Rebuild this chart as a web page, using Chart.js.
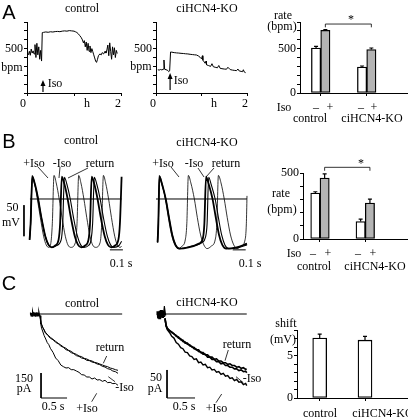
<!DOCTYPE html>
<html>
<head>
<meta charset="utf-8">
<script src="https://cdn.jsdelivr.net/npm/chart.js@4.4.0/dist/chart.umd.min.js"></script>
<style>
  body { margin: 0; background: #fff; }
  #fig { position: relative; width: 408px; height: 420px; overflow: hidden; background: #fff;
         font-family: "Liberation Serif", "Times New Roman", serif; font-size: 12px; color: #000; }
  #fig canvas { position: absolute; }
  #fig svg { position: absolute; left: 0; top: 0; }
  .t { position: absolute; white-space: nowrap; line-height: 1; transform: translate(-50%, -50%); }
  .L { font-family: "Liberation Sans", Arial, sans-serif; font-size: 20px; }
</style>
</head>
<body>
<div id="fig"></div>
<script>
// ---- data ----
const groups = ['control', 'ciHCN4-KO'];

// A: heart rate (bpm) in vivo, -Iso / +Iso
const rateA_minus = [507, 293];
const rateA_minusErr = [18, 11];
const rateA_plus = [707, 489];
const rateA_plusErr = [8, 18];

// B: rate of isolated SAN cells (bpm)
const rateB_minus = [348, 132];
const rateB_minusErr = [10, 18];
const rateB_plus = [462, 272];
const rateB_plusErr = [31, 30];

// C: If activation shift (mV)
const shiftC = [7.06, 6.8];
const shiftCErr = [0.45, 0.45];

// A traces: [hours, bpm]
const telemetryCtrl = [[0.03,430],[0.05,470],[0.07,425],[0.09,495],[0.11,450],[0.13,475],[0.15,440],[0.17,545],[0.19,400],[0.21,560],[0.23,430],[0.25,520],[0.27,380],[0.29,480],[0.31,360],[0.325,680],[0.35,683],[0.4,688],[0.45,684],[0.5,690],[0.55,687],[0.6,692],[0.65,694],[0.7,691],[0.75,697],[0.8,700],[0.85,697],[0.9,703],[0.95,700],[1.0,697],[1.03,690],[1.06,682],[1.09,668],[1.12,648],[1.15,628],[1.18,598],[1.2,565],[1.22,590],[1.24,520],[1.26,575],[1.28,480],[1.3,560],[1.32,470],[1.34,530],[1.36,455],[1.38,500],[1.4,465],[1.42,430],[1.44,395],[1.46,360],[1.48,345],[1.5,380],[1.52,420],[1.55,440],[1.58,430],[1.6,455],[1.63,440],[1.66,470],[1.68,450],[1.7,485],[1.72,540],[1.74,420],[1.76,565],[1.78,470],[1.8,380],[1.82,520],[1.84,430],[1.86,510],[1.88,400],[1.9,480],[1.92,445]];
const telemetryKO = [[0.04,262],[0.07,258],[0.1,265],[0.13,260],[0.16,268],[0.175,372],[0.19,268],[0.22,262],[0.25,258],[0.28,240],[0.3,250],[0.32,462],[0.35,460],[0.4,455],[0.45,452],[0.5,450],[0.55,447],[0.6,445],[0.65,442],[0.7,440],[0.75,436],[0.8,433],[0.85,430],[0.89,428],[0.93,418],[0.97,402],[1.0,385],[1.02,420],[1.03,370],[1.06,350],[1.08,335],[1.1,360],[1.11,318],[1.15,310],[1.2,300],[1.23,330],[1.26,296],[1.3,290],[1.35,284],[1.38,310],[1.41,278],[1.45,274],[1.5,270],[1.55,268],[1.58,290],[1.63,264],[1.68,258],[1.72,255],[1.77,252],[1.8,270],[1.83,248],[1.87,244],[1.9,240],[1.92,262],[1.94,236],[1.97,229]];
const isoTimeA = [0.34, 0.31];

// B traces: [s, mV]
const apCtrlMinus = [[0.012,-66],[0.02,-40],[0.033,36],[0.053,24],[0.078,0],[0.103,-30],[0.133,-60],[0.158,-74],[0.183,-78],[0.21,-75],[0.235,-66],[0.247,-40],[0.26,36],[0.28,24],[0.305,0],[0.33,-30],[0.36,-60],[0.385,-74],[0.41,-78],[0.44,-75],[0.465,-66],[0.477,-40],[0.49,36],[0.51,24],[0.535,0],[0.56,-30],[0.59,-60],[0.615,-74],[0.64,-78],[0.67,-75],[0.695,-66],[0.707,-40],[0.72,36]];
const apCtrlReturn = [[0.012,-66],[0.02,-40],[0.033,35],[0.053,23],[0.078,0],[0.103,-30],[0.133,-60],[0.158,-74],[0.183,-78],[0.22,-75],[0.255,-66],[0.267,-40],[0.28,35],[0.3,23],[0.325,0],[0.35,-30],[0.38,-60],[0.405,-74],[0.43,-78],[0.465,-75],[0.485,-66],[0.497,-40],[0.51,35],[0.53,23],[0.555,0],[0.58,-30],[0.61,-60],[0.635,-74],[0.66,-78],[0.7,-75],[0.72,-68]];
const apCtrlPlus = [[0.012,-66],[0.02,-40],[0.033,38],[0.05,26],[0.072,0],[0.095,-30],[0.12,-60],[0.14,-74],[0.16,-78],[0.175,-72],[0.187,-40],[0.2,38],[0.217,26],[0.24,0],[0.262,-30],[0.287,-60],[0.307,-74],[0.33,-78],[0.365,-70],[0.377,-40],[0.39,38],[0.407,26],[0.43,0],[0.452,-30],[0.477,-60],[0.497,-74],[0.52,-78],[0.555,-70],[0.567,-40],[0.58,38],[0.597,26],[0.62,0],[0.642,-30],[0.667,-60],[0.687,-74],[0.71,-78],[0.72,-76]];
const apKOMinus = [[0.012,-70],[0.018,-40],[0.026,36],[0.046,24],[0.075,0],[0.1,-30],[0.125,-58],[0.15,-74],[0.18,-80],[0.25,-78],[0.33,-72],[0.36,-64],[0.372,-40],[0.385,36],[0.405,24],[0.435,0],[0.46,-30],[0.485,-58],[0.51,-74],[0.54,-80],[0.62,-78],[0.7,-72]];
const apKOReturn = [[0.012,-70],[0.018,-40],[0.026,35],[0.046,23],[0.075,0],[0.1,-30],[0.125,-58],[0.15,-74],[0.18,-80],[0.26,-77],[0.355,-70],[0.38,-62],[0.393,-40],[0.405,35],[0.425,23],[0.455,0],[0.48,-30],[0.505,-58],[0.53,-74],[0.56,-80],[0.64,-78],[0.7,-74]];
const apKOPlus = [[0.012,-70],[0.018,-40],[0.026,38],[0.046,26],[0.072,0],[0.095,-30],[0.12,-58],[0.145,-74],[0.17,-80],[0.2,-76],[0.225,-66],[0.237,-40],[0.249,38],[0.268,26],[0.295,0],[0.318,-30],[0.343,-58],[0.368,-74],[0.393,-80],[0.425,-76],[0.455,-66],[0.468,-40],[0.48,38],[0.5,26],[0.525,0],[0.548,-30],[0.573,-58],[0.598,-74],[0.623,-80],[0.655,-76],[0.685,-66],[0.695,-40],[0.7,5]];
const apZeroCtrl = [[0.015,0],[0.72,0]];
const apZeroKO = [[0,0],[0.70,0]];
const barMvCtrl = [[-0.031,-10],[-0.031,-60]];
const barSecCtrl = [[0.63,-82],[0.73,-82]];
const barSecKO = [[0.59,-82],[0.69,-82]];

// C traces: [s, pA]
const ifBlobCtrl = [[-0.19,-3],[-0.18,9],[-0.17,-11],[-0.16,6],[-0.15,-13],[-0.14,8],[-0.13,-6],[-0.12,11],[-0.11,-9],[-0.1,7],[-0.09,-12],[-0.08,9],[-0.07,-7],[-0.06,10],[-0.05,-11],[-0.04,8],[-0.03,-9],[-0.02,7],[-0.01,-8],[0,-4]];
const ifZeroCtrl = [[-0.19,0],[1.58,0]];
const ifCtrlPlus = [[0,-10],[0.015,-60],[0.03,-85],[0.05,-102],[0.08,-130],[0.11,-150],[0.14,-172],[0.17,-184],[0.2,-206],[0.25,-230],[0.3,-264],[0.35,-280],[0.4,-306],[0.45,-316],[0.5,-324],[0.55,-322],[0.6,-334],[0.65,-334],[0.7,-342],[0.75,-350],[0.8,-364],[0.85,-366],[0.9,-378],[0.95,-378],[1.0,-390],[1.05,-384],[1.1,-396],[1.15,-394],[1.2,-404],[1.25,-398],[1.3,-412],[1.35,-410],[1.4,-418],[1.45,-416],[1.5,-428]];
const ifCtrlMinus = [[0,-10],[0.02,-55],[0.05,-80],[0.08,-98],[0.1,-112],[0.15,-128],[0.2,-146],[0.25,-154],[0.3,-170],[0.35,-178],[0.4,-192],[0.45,-200],[0.5,-214],[0.55,-220],[0.6,-232],[0.65,-238],[0.7,-250],[0.75,-254],[0.8,-264],[0.85,-268],[0.9,-278],[0.95,-280],[1.0,-288],[1.05,-292],[1.1,-300],[1.15,-304],[1.2,-314],[1.25,-318],[1.3,-328],[1.35,-332],[1.4,-342],[1.45,-346],[1.5,-356]];
const ifCtrlReturn = [[0,-10],[0.02,-52],[0.05,-78],[0.08,-94],[0.1,-108],[0.15,-126],[0.2,-140],[0.25,-152],[0.3,-164],[0.35,-176],[0.4,-186],[0.45,-198],[0.5,-206],[0.55,-218],[0.6,-224],[0.65,-236],[0.7,-242],[0.75,-252],[0.8,-256],[0.85,-266],[0.9,-270],[0.95,-278],[1.0,-282],[1.05,-290],[1.1,-294],[1.15,-300],[1.2,-306],[1.25,-312],[1.3,-316],[1.35,-324],[1.4,-328],[1.45,-334],[1.5,-338]];
const ifScaleCtrl = [[0.02,-354],[0.02,-504],[0.52,-504]];

const ifBlobKO = [[-0.14,-2],[-0.13,5],[-0.12,-6],[-0.11,4],[-0.1,-7],[-0.09,6],[-0.08,-5],[-0.07,7],[-0.06,-6],[-0.05,5],[-0.04,-7],[-0.03,6],[-0.02,-5],[-0.01,4],[0,-3]];
const ifZeroKO = [[-0.036,0],[1.46,0]];
const ifKOPlus = [[0,-8],[0.02,-22],[0.04,-28],[0.08,-33],[0.12,-40],[0.16,-43],[0.2,-51],[0.24,-54],[0.28,-60],[0.32,-62],[0.36,-68],[0.4,-69],[0.44,-75],[0.48,-76],[0.52,-81],[0.56,-80],[0.6,-87],[0.64,-86],[0.68,-91],[0.72,-90],[0.76,-96],[0.8,-95],[0.84,-100],[0.88,-99],[0.92,-104],[0.96,-103],[1.0,-108],[1.04,-106],[1.08,-111],[1.12,-110],[1.16,-115],[1.2,-114],[1.24,-119],[1.28,-117],[1.32,-122],[1.36,-121],[1.4,-126],[1.44,-124],[1.46,-128]];
const ifKOMinus = [[0,-8],[0.02,-21],[0.04,-26],[0.08,-29],[0.12,-33],[0.16,-35],[0.2,-40],[0.24,-41],[0.28,-46],[0.32,-47],[0.36,-52],[0.4,-52],[0.44,-57],[0.48,-58],[0.52,-62],[0.56,-63],[0.6,-67],[0.64,-68],[0.68,-72],[0.72,-72],[0.76,-77],[0.8,-77],[0.84,-81],[0.88,-81],[0.92,-85],[0.96,-85],[1.0,-89],[1.04,-88],[1.08,-92],[1.12,-92],[1.16,-95],[1.2,-95],[1.24,-98],[1.28,-98],[1.32,-101],[1.36,-100],[1.4,-103],[1.44,-102],[1.46,-105]];
const ifKOReturn = [[0,-8],[0.02,-20],[0.04,-25],[0.08,-30],[0.12,-32],[0.16,-36],[0.2,-38],[0.24,-43],[0.28,-44],[0.32,-49],[0.36,-50],[0.4,-54],[0.44,-55],[0.48,-59],[0.52,-60],[0.56,-64],[0.6,-64],[0.64,-69],[0.68,-69],[0.72,-73],[0.76,-73],[0.8,-77],[0.84,-77],[0.88,-81],[0.92,-80],[0.96,-84],[1.0,-84],[1.04,-87],[1.08,-87],[1.12,-90],[1.16,-89],[1.2,-92],[1.24,-92],[1.28,-95],[1.32,-94],[1.36,-97],[1.4,-96],[1.44,-99],[1.46,-98]];
const ifScaleKO = [[0.036,-100],[0.036,-150],[0.536,-150]];

// ---- chart setup ----
Chart.defaults.font.family = '"Liberation Serif", "Times New Roman", serif';
Chart.defaults.font.size = 12;
Chart.defaults.color = '#000';
Chart.defaults.animation = false;
Chart.defaults.plugins.legend.display = false;
Chart.defaults.plugins.tooltip.enabled = false;
Chart.defaults.elements.point.radius = 0;

const fig = document.getElementById('fig');

function makeCanvas(left, top, w, h) {
  const c = document.createElement('canvas');
  c.width = w; c.height = h;
  c.style.left = left + 'px'; c.style.top = top + 'px';
  c.style.width = w + 'px'; c.style.height = h + 'px';
  fig.appendChild(c);
  return c.getContext('2d');
}

const pts = arr => arr.map(p => ({ x: p[0], y: p[1] }));

function line(arr, width, tension) {
  return { data: pts(arr), borderColor: '#000', borderWidth: width, tension: tension || 0,
           cubicInterpolationMode: tension ? 'monotone' : 'default', fill: false };
}

function yAxis(min, max, step, shown, width) {
  return {
    type: 'linear', min, max,
    ticks: { stepSize: step, autoSkip: false, padding: 1, maxRotation: 0,
             callback: v => shown.includes(v) ? String(v) : '' },
    grid: { drawOnChartArea: false, drawTicks: true, tickLength: 3, color: '#000' },
    border: { color: '#000', width: 1 },
    afterFit: s => { s.width = width; s.paddingTop = 0; s.paddingBottom = 0; }
  };
}

function xAxis(min, max, tickVals, height) {
  return {
    type: 'linear', min, max, offset: false,
    afterBuildTicks: s => { s.ticks = tickVals.map(v => ({ value: v })); },
    ticks: { display: false },
    grid: { drawOnChartArea: false, drawTicks: true, tickLength: 3, color: '#000', offset: false },
    border: { color: '#000', width: 1 },
    afterFit: s => { s.height = height; s.paddingLeft = 0; s.paddingRight = 0; }
  };
}

function hidden(min, max) {
  return { type: 'linear', display: false, min, max };
}

// arrow marking the Iso injection
function isoArrow(t, fromBottom, toBottom) {
  return {
    id: 'isoArrow',
    afterDatasetsDraw(chart) {
      const ctx = chart.ctx, x = chart.scales.x.getPixelForValue(t);
      const yTop = chart.chartArea.bottom - fromBottom, yBot = chart.chartArea.bottom - toBottom;
      ctx.save();
      ctx.strokeStyle = '#000'; ctx.fillStyle = '#000'; ctx.lineWidth = 1.2;
      ctx.beginPath(); ctx.moveTo(x, yBot); ctx.lineTo(x, yTop + 4); ctx.stroke();
      ctx.beginPath(); ctx.moveTo(x, yTop); ctx.lineTo(x - 2.5, yTop + 6); ctx.lineTo(x + 2.5, yTop + 6);
      ctx.closePath(); ctx.fill();
      ctx.restore();
    }
  };
}

const errorBars = {
  id: 'errorBars',
  afterDatasetsDraw(chart) {
    const ctx = chart.ctx, ys = chart.scales.y;
    ctx.save();
    ctx.strokeStyle = '#000'; ctx.lineWidth = 1.2;
    chart.data.datasets.forEach((ds, i) => {
      if (!ds.errors) return;
      chart.getDatasetMeta(i).data.forEach((bar, j) => {
        const top = ys.getPixelForValue(ds.data[j].y + ds.errors[j]);
        ctx.beginPath();
        ctx.moveTo(bar.x, bar.y); ctx.lineTo(bar.x, top);
        ctx.moveTo(bar.x - 2, top); ctx.lineTo(bar.x + 2, top);
        ctx.stroke();
      });
    });
    ctx.restore();
  }
};

function bracket(dsIdx, a, b, value, legValue) {
  return {
    id: 'bracket',
    afterDatasetsDraw(chart) {
      const meta = chart.getDatasetMeta(dsIdx), ys = chart.scales.y, ctx = chart.ctx;
      const x1 = meta.data[a].x, x2 = meta.data[b].x;
      const y = ys.getPixelForValue(value), y2 = ys.getPixelForValue(legValue);
      ctx.save();
      ctx.strokeStyle = '#000'; ctx.lineWidth = 0.8;
      ctx.beginPath();
      ctx.moveTo(x1, y2); ctx.lineTo(x1, y); ctx.lineTo(x2, y); ctx.lineTo(x2, y2);
      ctx.stroke();
      ctx.restore();
    }
  };
}

function rateBars(minus, minusErr, plus, plusErr) {
  return [
    { data: minus.map((v, i) => ({ x: i, y: v })), errors: minusErr, backgroundColor: '#fff',
      borderColor: '#000', borderWidth: 1.3, borderSkipped: false, barThickness: 9.3 },
    { data: plus.map((v, i) => ({ x: i, y: v })), errors: plusErr, backgroundColor: '#b4b4b4',
      borderColor: '#000', borderWidth: 1.3, borderSkipped: false, barThickness: 9.3 }
  ];
}

// ---- panel A ----
new Chart(makeCanvas(0, 15, 124, 82), {
  type: 'line',
  data: { datasets: [line(telemetryCtrl, 1)] },
  options: { responsive: false, layout: { padding: { top: 7, right: 3, left: 0, bottom: 0 } },
    scales: { x: xAxis(0, 2, [0, 1, 2], 4), y: yAxis(0, 800, 100, [500], 27) } },
  plugins: [isoArrow(isoTimeA[0], 13, 1)]
});

new Chart(makeCanvas(128, 15, 122, 82), {
  type: 'line',
  data: { datasets: [line(telemetryKO, 1)] },
  options: { responsive: false, layout: { padding: { top: 7, right: 3, left: 0, bottom: 0 } },
    scales: { x: xAxis(0, 2, [0, 1, 2], 4), y: yAxis(0, 800, 100, [500], 28) } },
  plugins: [isoArrow(isoTimeA[1], 20, 3)]
});

new Chart(makeCanvas(262, 15, 146, 87), {
  type: 'bar',
  data: { datasets: rateBars(rateA_minus, rateA_minusErr, rateA_plus, rateA_plusErr) },
  options: { responsive: false, layout: { padding: { top: 7, right: 1, left: 0, bottom: 0 } },
    scales: { x: xAxis(-0.45, 1.876, [0, 1], 9), y: yAxis(0, 800, 100, [0, 500], 38) } },
  plugins: [errorBars, bracket(1, 0, 1, 777, 740)]
});

// ---- panel B ----
new Chart(makeCanvas(4, 165, 122, 90), {
  type: 'line',
  data: { datasets: [
    line(apZeroCtrl, 1), line(barMvCtrl, 1), line(barSecCtrl, 1),
    line(apCtrlPlus, 0.8, 0.3), line(apCtrlReturn, 1.1, 0.3), line(apCtrlMinus, 1.8, 0.3)
  ] },
  options: { responsive: false, layout: { padding: 0 },
    scales: { x: hidden(-0.1846, 0.7538), y: hidden(-90.3, 54.8) } }
});

new Chart(makeCanvas(150, 165, 102, 90), {
  type: 'line',
  data: { datasets: [
    line(apZeroKO, 1), line(barSecKO, 1),
    line(apKOPlus, 0.8, 0.3), line(apKOReturn, 1.1, 0.3), line(apKOMinus, 1.8, 0.3)
  ] },
  options: { responsive: false, layout: { padding: 0 },
    scales: { x: hidden(-0.0462, 0.7385), y: hidden(-90.3, 54.8) } }
});

new Chart(makeCanvas(262, 158, 146, 90), {
  type: 'bar',
  data: { datasets: rateBars(rateB_minus, rateB_minusErr, rateB_plus, rateB_plusErr) },
  options: { responsive: false, layout: { padding: { top: 15, right: 1, left: 0, bottom: 0 } },
    scales: { x: xAxis(-0.375, 1.921, [0, 1], 9), y: yAxis(0, 500, 100, [0, 500], 41) } },
  plugins: [errorBars, bracket(1, 0, 1, 543, 517)]
});

// ---- panel C ----
new Chart(makeCanvas(4, 306, 122, 96), {
  type: 'line',
  data: { datasets: [
    line(ifZeroCtrl, 1), line(ifBlobCtrl, 1.4), line(ifScaleCtrl, 1),
    line(ifCtrlReturn, 1), line(ifCtrlMinus, 1), line(ifCtrlPlus, 1)
  ] },
  options: { responsive: false, layout: { padding: 0 },
    scales: { x: hidden(-0.6923, 1.6538), y: hidden(-528, 48) } }
});

new Chart(makeCanvas(150, 306, 102, 96), {
  type: 'line',
  data: { datasets: [
    line(ifZeroKO, 1), line(ifBlobKO, 2.5), line(ifScaleKO, 1),
    line(ifKOReturn, 1.6), line(ifKOMinus, 1.6), line(ifKOPlus, 1.4)
  ] },
  options: { responsive: false, layout: { padding: 0 },
    scales: { x: hidden(-0.2679, 1.5536), y: hidden(-157.2, 14.3) } }
});

new Chart(makeCanvas(262, 318, 146, 90), {
  type: 'bar',
  data: { datasets: [
    { data: shiftC.map((v, i) => ({ x: i, y: v })), errors: shiftCErr, backgroundColor: '#fff',
      borderColor: '#000', borderWidth: 1.3, borderSkipped: false, barThickness: 14 }
  ] },
  options: { responsive: false, layout: { padding: { top: 12, right: 1, left: 0, bottom: 0 } },
    scales: { x: xAxis(-0.501, 1.927, [0, 1], 10), y: yAxis(0, 8, 1, [0, 5], 35) } },
  plugins: [errorBars]
});

// ---- leader lines ----
const leaders = [
  [38,167,48,178],[60,167,59,178],[88,168,68,178],
  [171,167,179,177],[198,168,204,177],[214,168,206,177],
  [106.7,356,103.3,363.3],[108.3,376.7,115,381.7],[96.7,393.3,91.7,401.7],
  [228.3,350,225,360.7],[236,376.7,243.3,382.7],[221.7,394,216,402.7]
];
fig.insertAdjacentHTML('beforeend',
  '<svg width="408" height="420">' +
  leaders.map(l => `<line x1="${l[0]}" y1="${l[1]}" x2="${l[2]}" y2="${l[3]}" stroke="#000" stroke-width="0.8"/>`).join('') +
  '</svg>');

// ---- text labels ----
const labels = [
  ['A', 9, 12, 'L'], ['B', 9, 141, 'L'], ['C', 9, 283, 'L'],
  ['control', 82, 8], ['ciHCN4-KO', 207, 8],
  ['bpm', 12, 67], ['bpm', 141, 66], ['Iso', 55, 83], ['Iso', 181, 80],
  ['0', 23, 103], ['h', 87, 103], ['2', 118, 103],
  ['0', 153, 103], ['h', 214, 103], ['2', 245, 103],
  ['rate', 283, 15], ['(bpm)', 282, 26], ['*', 351, 19], ['Iso', 284, 107],
  ['\u2013', 316, 107], ['+', 330, 107], ['\u2013', 361, 107], ['+', 374, 107],
  ['control', 310, 118], ['ciHCN4-KO', 372, 118],

  ['control', 81, 140], ['ciHCN4-KO', 207, 142],
  ['+Iso', 34, 163], ['-Iso', 62, 163], ['return', 100, 163],
  ['+Iso', 163, 163], ['-Iso', 194, 163], ['return', 226, 163],
  ['50', 12.5, 207], ['mV', 11, 222], ['0.1 s', 121, 263], ['0.1 s', 250, 263],
  ['rate', 281, 193], ['(bpm)', 282, 209], ['*', 361, 163], ['Iso', 294, 253],
  ['\u2013', 313, 253], ['+', 328, 253], ['\u2013', 358, 253], ['+', 373, 253],
  ['control', 314, 266], ['ciHCN4-KO', 375, 266],

  ['control', 82, 303], ['ciHCN4-KO', 207, 302],
  ['150', 24, 378], ['pA', 24, 388], ['0.5 s', 53, 406],
  ['return', 110, 347], ['-Iso', 124.5, 387], ['+Iso', 87, 408],
  ['50', 156, 377], ['pA', 155, 388], ['0.5 s', 184, 406],
  ['return', 237, 344], ['-Iso', 252, 378], ['+Iso', 216.5, 408],
  ['shift', 286, 323], ['(mV)', 283, 339],
  ['control', 320, 413], ['ciHCN4-KO', 383, 413]
];
labels.forEach(([txt, x, y, cls]) => {
  const d = document.createElement('div');
  d.className = 't' + (cls ? ' ' + cls : '');
  d.textContent = txt;
  d.style.left = x + 'px';
  d.style.top = y + 'px';
  fig.appendChild(d);
});
</script>
</body>
</html>
